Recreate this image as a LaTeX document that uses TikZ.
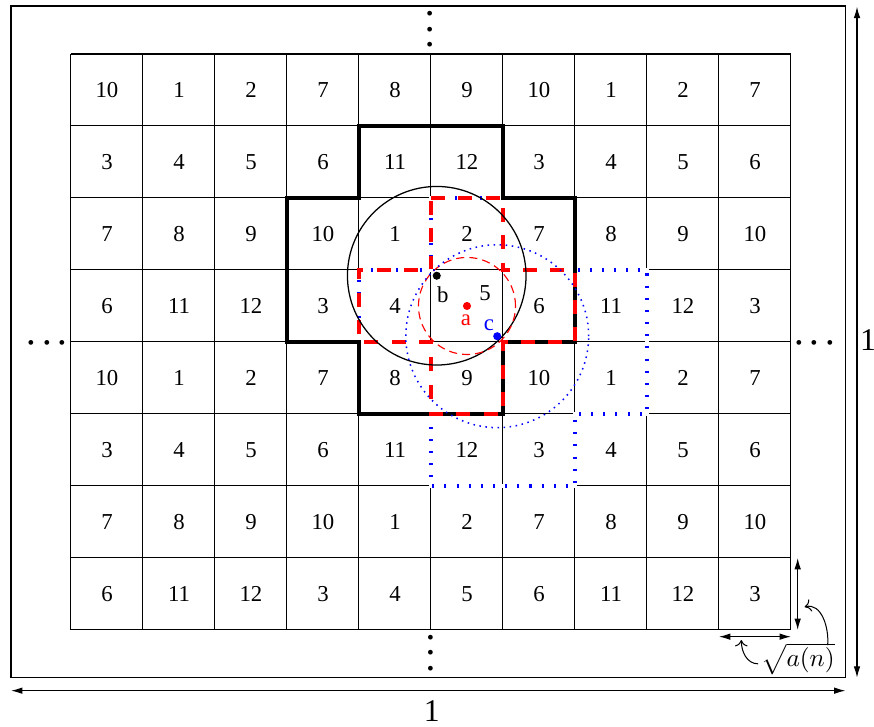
\documentclass[tikz,border=0pt]{standalone}
\usepackage{fontspec}
\setmainfont{Liberation Serif}
\usetikzlibrary{arrows.meta}

\tikzset{
  cellnum/.style={inner sep=1pt},
  tileline/.style={line width=1.6pt, line join=miter},
  eraser/.style={white, line width=1.7pt},
  plusline/.style={red, line width=1.6pt, dash pattern=on 5.5pt off 5.3pt},
  bluetile/.style={blue, line width=1.6pt, dash pattern=on 0.8pt off 4pt},
  dimarrow/.style={{Latex[length=4.5pt,width=2.6pt]}-{Latex[length=4.5pt,width=2.6pt]}, line width=0.45pt},
  bendarrow/.style={-{To[length=2.5pt,width=5pt]}, line width=0.4pt},
  ptdot/.style={circle, inner sep=0pt, minimum size=3.2pt},
  moredots/.style={font=\fontsize{11.5}{13}\selectfont\boldmath, inner sep=0pt},
  onelabel/.style={font=\fontsize{12.5}{14}\selectfont}
}

\begin{document}
\begin{tikzpicture}[x=1cm, y=1cm, font=\fontsize{9}{11}\selectfont]
  \useasboundingbox (-0.986,-1.347) rectangle (11.153,8.75);
  \draw[line width=0.5pt] (-0.833,-0.66) rectangle (10.757,8.667);
  \draw[line width=0.4pt] (0,0) grid (10,8);
  % cell numbers, top row first
  \foreach \r/\vals in {7/{10,1,2,7,8,9,10,1,2,7}, 6/{3,4,5,6,11,12,3,4,5,6},
                        5/{7,8,9,10,1,2,7,8,9,10}, 4/{6,11,12,3,4,5,6,11,12,3},
                        3/{10,1,2,7,8,9,10,1,2,7}, 2/{3,4,5,6,11,12,3,4,5,6},
                        1/{7,8,9,10,1,2,7,8,9,10}, 0/{6,11,12,3,4,5,6,11,12,3}}{
    \foreach \v [count=\c from 0] in \vals {
      \ifnum\numexpr\c*10+\r\relax=54
        \node[cellnum] (n-\c-\r) at (5.75,4.68) {\v};
      \else
        \node[cellnum] (n-\c-\r) at (\c+0.5,\r+0.5) {\v};
      \fi
    }
  }
  % the three tiles
  \draw[eraser] (5,6) -- (7,6) -- (7,5) -- (8,5) -- (8,3) -- (7,3) -- (7,2) -- (5,2) -- (5,3) -- (4,3) -- (4,5) -- (5,5) -- cycle;
  \draw[eraser] (5,6) -- (6,6) -- (6,5) -- (7,5) -- (7,4) -- (6,4) -- (6,3) -- (5,3) -- (5,4) -- (4,4) -- (4,5) -- (5,5) -- cycle;
  \draw[bluetile] (5,6) -- (7,6) -- (7,5) -- (8,5) -- (8,3) -- (7,3) -- (7,2) -- (5,2) -- (5,3) -- (4,3) -- (4,5) -- (5,5) -- cycle;
  \draw[tileline] (4,7) -- (6,7) -- (6,6) -- (7,6) -- (7,4) -- (6,4) -- (6,3) -- (4,3) -- (4,4) -- (3,4) -- (3,6) -- (4,6) -- cycle;
  \draw[plusline] (5,6) -- (6,6) -- (6,5) -- (7,5) -- (7,4) -- (6,4) -- (6,3) -- (5,3) -- (5,4) -- (4,4) -- (4,5) -- (5,5) -- cycle;
  % points and their circles
  \coordinate (ca) at (5.5,4.5);
  \coordinate (cb) at (5.08,4.92);
  \coordinate (cc) at (5.92,4.08);
  \draw[line width=0.5pt] (cb) circle (1.24);
  \draw[red, line width=0.45pt, dash pattern=on 3.2pt off 2pt] (ca) circle (0.674);
  \draw[blue, line width=0.6pt, dash pattern=on 0.6pt off 1.8pt] (cc) circle (1.27);
  \node[ptdot, fill=red] (a) at (ca) {};
  \node[ptdot, fill=black] (b) at (cb) {};
  \node[ptdot, fill=blue] (c) at (cc) {};
  \node[red, inner sep=1pt] (la) at (5.486,4.306) {a};
  \node[inner sep=1pt] (lb) at (5.163,4.653) {b};
  \node[blue, inner sep=1pt] (lc) at (5.806,4.236) {c};
  % dots
  \node[moredots] (ldots) at (-0.33,3.985) {$\cdots$};
  \node[moredots] (rdots) at (10.33,3.985) {$\cdots$};
  \node[moredots, rotate=90] (tdots) at (4.99,8.345) {$\cdots$};
  \node[moredots, rotate=90] (bdots) at (5.0,-0.315) {$\cdots$};
  % unit sizes
  \coordinate (bl) at (-0.833,-0.843);
  \coordinate (br) at (10.757,-0.843);
  \coordinate (rt) at (10.917,8.657);
  \coordinate (rb) at (10.917,-0.663);
  \draw[dimarrow] (bl) -- (br);
  \draw[dimarrow] (rt) -- (rb);
  \node[onelabel] (one-b) at (5.01,-1.125) {1};
  \node[onelabel] (one-r) at (11.07,4.03) {1};
  % cell side
  \coordinate (vt) at (10.093,1);
  \coordinate (vb) at (10.093,0);
  \coordinate (hl) at (9,-0.093);
  \coordinate (hr) at (10,-0.093);
  \draw[dimarrow] (vt) -- (vb);
  \draw[dimarrow] (hl) -- (hr);
  \node[inner sep=1pt, font=\fontsize{10}{12}\selectfont] (sq) at (10.097,-0.40) {$\sqrt{a(n)}$};
  \coordinate (hend) at (9.31,-0.14);
  \coordinate (vend) at (10.19,0.32);
  \draw[bendarrow] ([yshift=-2pt]sq.west) to[out=180,in=-90] (hend);
  \draw[bendarrow] ([xshift=-4pt,yshift=-2pt]sq.north east) to[out=85,in=15] (vend);
\end{tikzpicture}
\end{document}
